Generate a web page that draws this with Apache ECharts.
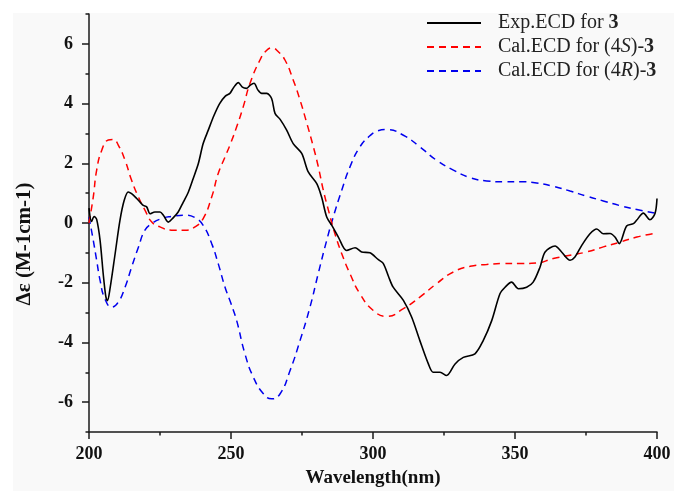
<!DOCTYPE html>
<html><head><meta charset="utf-8">
<script src="https://cdn.jsdelivr.net/npm/echarts@6/dist/echarts.min.js"></script>
<style>html,body{margin:0;padding:0;background:#fff}#c{width:674px;height:491px}</style>
</head><body><div id="c"></div>
<script>
// Experimental ECD (black)
const expX = [200.0,200.9,201.8,202.7,203.9,205.0,205.9,206.5,207.4,209.2,210.9,212.4,213.8,215.0,216.8,218.0,219.1,220.3,221.5,223.2,225.0,226.2,227.9,229.7,231.4,233.2,235.0,236.7,238.5,240.2,242.0,244.0,246.0,248.0,249.6,251.0,252.6,254.0,255.5,256.8,258.1,259.5,260.8,262.6,264.3,265.5,267.3,269.6,271.9,274.9,277.2,280.2,281.9,283.7,285.5,287.8,290.7,293.7,296.0,298.9,301.9,303.6,305.5,307.1,310.7,313.6,316.5,319.5,321.2,323.6,325.9,328.9,331.8,335.9,338.8,341.8,344.7,346.5,348.8,351.2,354.1,356.4,358.8,360.6,364.1,366.4,369.4,371.1,373.5,376.4,378.8,381.1,383.5,385.2,386.7,389.3,391.7,392.8,395.2,397.5,399.3,400.0];
const expY = [0.5,0.05,0.22,0.12,-0.58,-1.7,-2.45,-2.6,-2.2,-1.03,0.09,0.76,1.04,0.98,0.82,0.7,0.59,0.54,0.31,0.37,0.37,0.26,0.03,0.18,0.37,0.7,1.04,1.49,1.99,2.66,3.11,3.6,4.0,4.25,4.34,4.55,4.7,4.55,4.51,4.62,4.68,4.45,4.34,4.34,4.17,3.67,3.47,3.11,2.66,2.33,1.71,1.32,0.87,0.2,-0.08,-0.47,-0.92,-0.83,-0.97,-1.0,-1.23,-1.35,-1.8,-2.15,-2.59,-3.15,-3.94,-4.72,-5.0,-5.0,-5.11,-4.72,-4.5,-4.38,-3.94,-3.27,-2.37,-2.15,-1.98,-2.2,-2.15,-1.98,-1.48,-0.97,-0.77,-0.97,-1.25,-1.14,-0.75,-0.36,-0.2,-0.36,-0.35,-0.47,-0.69,-0.1,-0.02,0.09,0.33,0.11,0.32,0.82];
// Calculated ECD for (4S) (red)
const sX = [200.0,201.5,202.7,204.5,206.8,208.6,210.3,212.7,215.0,217.4,219.7,222.1,225.0,229.1,233.8,237.3,240.2,243.2,245.5,247.9,250.0,252.0,254.3,256.7,260.2,262.5,264.4,266.5,269.0,271.9,274.3,276.7,279.0,280.7,282.5,284.3,286.6,289.0,291.9,295.4,300.1,304.8,310.7,316.5,322.4,328.3,334.2,340.0,345.9,351.8,357.6,363.5,369.4,375.2,381.1,387.0,392.9,400.0];
const sY = [0.0,0.87,1.77,2.44,2.78,2.8,2.61,2.1,1.43,0.87,0.43,0.03,-0.13,-0.24,-0.24,-0.13,0.15,0.87,1.66,2.21,2.7,3.22,3.89,4.68,5.46,5.78,5.87,5.75,5.46,4.79,4.12,3.34,2.55,1.9,1.1,0.43,-0.36,-1.03,-1.7,-2.37,-2.93,-3.13,-2.87,-2.48,-2.03,-1.64,-1.45,-1.39,-1.36,-1.36,-1.34,-1.19,-1.08,-0.97,-0.8,-0.64,-0.47,-0.33];
// Calculated ECD for (4R) (blue)
const rX = [200.0,201.5,202.7,203.9,205.6,208.0,210.3,212.7,215.0,217.4,219.7,222.1,225.6,229.1,233.8,237.3,240.2,243.2,245.5,247.9,250.0,252.0,254.9,257.9,261.4,264.3,267.3,270.8,274.3,277.8,280.7,283.7,286.0,289.0,291.9,295.4,298.9,301.5,304.8,310.7,316.5,322.4,328.3,334.2,340.0,345.9,351.8,357.6,363.5,369.4,375.2,381.1,387.0,392.9,400.0];
const rY = [0.2,-0.58,-1.25,-1.92,-2.54,-2.82,-2.65,-2.15,-1.48,-0.81,-0.24,-0.02,0.15,0.22,0.26,0.18,-0.08,-0.69,-1.36,-2.15,-2.7,-3.27,-4.38,-5.17,-5.72,-5.89,-5.72,-4.94,-3.94,-2.82,-1.7,-0.58,0.2,1.1,1.88,2.55,2.92,3.08,3.13,2.94,2.55,2.1,1.77,1.52,1.41,1.38,1.38,1.34,1.23,1.07,0.9,0.74,0.58,0.45,0.32];

const seriesNames = ['Exp.ECD for 3', 'Cal.ECD for (4S)-3', 'Cal.ECD for (4R)-3'];
const legendLabels = ['{sp|}{n|Exp.ECD for }{b|3}', '{sp|}{n|Cal.ECD for (4}{i|S}{n|)-}{b|3}', '{sp|}{n|Cal.ECD for (4}{i|R}{n|)-}{b|3}'];
const yMajor = [-6, -4, -2, 0, 2, 4, 6];
const yMinor = [-7, -5, -3, -1, 1, 3, 5, 7];
const xTitle = 'Wavelength(nm)';
const yTitle = 'Δε (M-1cm-1)';

function zip(a, b) { return a.map((v, i) => [v, b[i]]); }

const serif = '"Liberation Serif", "Times New Roman", serif';
const axisCol = '#1a1a1a';
const lgFont = 20;
const chart = echarts.init(document.getElementById('c'));
chart.setOption({
  animation: false,
  backgroundColor: '#ffffff',
  graphic: [
    { type: 'rect', z: -100, shape: { x: 13, y: 13, width: 661, height: 478 }, style: { fill: '#f9f9f9' } },
    { type: 'text', x: 373, y: 478, style: { text: xTitle, font: 'bold 19px ' + serif, fill: '#111', textAlign: 'center', textVerticalAlign: 'middle' } },
    { type: 'text', x: 25, y: 244, rotation: Math.PI / 2, style: { text: yTitle, font: 'bold 21px ' + serif, fill: '#111', textAlign: 'center', textVerticalAlign: 'middle' } }
  ],
  grid: { left: 89, right: 17, top: 14, bottom: 59, containLabel: false },
  legend: {
    orient: 'vertical', left: 421, top: 8, itemWidth: 54, itemHeight: 14, itemGap: 4,
    data: seriesNames,
    itemStyle: { opacity: 0 },
    formatter: function (name) { return legendLabels[seriesNames.indexOf(name)]; },
    textStyle: {
      fontFamily: serif, fontSize: lgFont, color: '#222', lineHeight: 18,
      rich: {
        sp: { width: 12, lineHeight: 18 },
        n: { fontFamily: serif, fontSize: lgFont, color: '#222', lineHeight: 18 },
        b: { fontFamily: serif, fontSize: lgFont, color: '#222', fontWeight: 'bold', lineHeight: 18 },
        i: { fontFamily: serif, fontSize: lgFont, color: '#222', fontStyle: 'italic', lineHeight: 18 }
      }
    }
  },
  xAxis: {
    type: 'value', min: 200, max: 400, interval: 50,
    axisLine: { show: true, onZero: false, lineStyle: { color: axisCol, width: 1.5 } },
    axisTick: { show: true, inside: false, length: 7, lineStyle: { color: axisCol, width: 1.5 } },
    minorTick: { show: true, splitNumber: 2, length: 3.5, lineStyle: { color: axisCol, width: 1.5 } },
    axisLabel: { fontFamily: serif, fontSize: 18, fontWeight: 'bold', color: '#111', margin: 13 },
    splitLine: { show: false }
  },
  yAxis: [{
    type: 'value', min: -7, max: 7, interval: 1, position: 'left',
    axisLine: { show: true, onZero: false, lineStyle: { color: axisCol, width: 1.5 } },
    axisTick: { show: true, length: 7, customValues: yMajor, lineStyle: { color: axisCol, width: 1.5 } },
    axisLabel: { customValues: yMajor, fontFamily: serif, fontSize: 18, fontWeight: 'bold', color: '#111', margin: 16 },
    splitLine: { show: false }
  }, {
    type: 'value', min: -7, max: 7, interval: 1, position: 'left', offset: 0,
    axisLine: { show: false },
    axisTick: { show: true, length: 3.5, customValues: yMinor, lineStyle: { color: axisCol, width: 1.5 } },
    axisLabel: { show: false },
    splitLine: { show: false }
  }],
  series: [
    { name: seriesNames[0], type: 'line', data: zip(expX, expY), symbol: 'none', smooth: 0.3, z: 5,
      lineStyle: { color: '#000', width: 1.6 }, itemStyle: { color: '#000' } },
    { name: seriesNames[1], type: 'line', data: zip(sX, sY), symbol: 'none', smooth: 0.5, z: 4,
      lineStyle: { color: '#ff0000', width: 1.5, type: [7, 5] }, itemStyle: { color: '#ff0000' } },
    { name: seriesNames[2], type: 'line', data: zip(rX, rY), symbol: 'none', smooth: 0.5, z: 3,
      lineStyle: { color: '#0000ee', width: 1.5, type: [7, 5] }, itemStyle: { color: '#0000ee' } }
  ]
});
</script></body></html>
